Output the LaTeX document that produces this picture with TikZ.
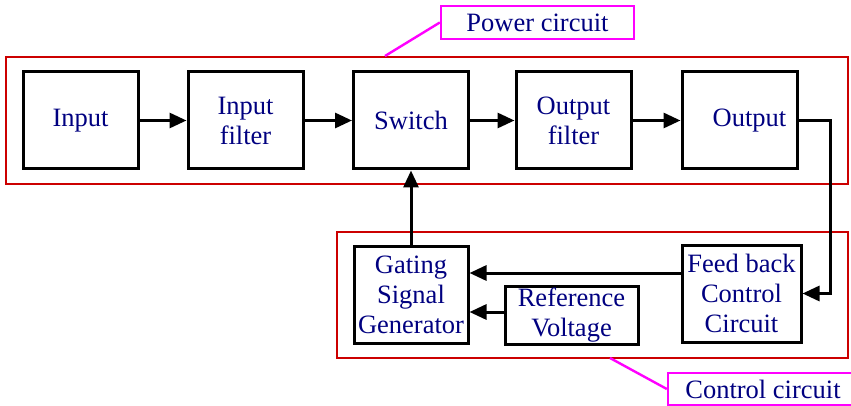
\documentclass[tikz,border=0pt]{standalone}
\usepackage{fontspec}
\setmainfont{Liberation Serif}
\usetikzlibrary{arrows.meta,calc}
\definecolor{boxred}{HTML}{CC0000}
\definecolor{txtblue}{HTML}{000080}
\definecolor{tagpink}{HTML}{FF00FF}
\tikzset{
  blk/.style={draw=black, line width=3pt, text=txtblue, align=center,
    minimum width=115pt, minimum height=97pt, inner sep=0pt,
    font=\fontsize{26.5}{30}\selectfont},
  group/.style={draw=boxred, line width=2.8pt},
  tag/.style={draw=tagpink, line width=2.4pt, text=txtblue, inner sep=0pt,
    font=\fontsize{26.5}{30}\selectfont},
  lead/.style={tagpink, line width=2.4pt},
  arr/.style={line width=3pt, -{Triangle[length=17pt,width=15pt]}}
}
\begin{document}
\begin{tikzpicture}[x=1pt,y=-1pt]
    \useasboundingbox (0,0) rectangle (851,406);

    % group frames
    \draw[group] (6,57) rectangle (848,184);
    \draw[group] (337,232) rectangle (848,358);

    % power stage
    \node[blk] (in) at (80.5,120.5) {Input};
    \node[blk] (infil) at (245.5,120.5) {Input\\filter};
    \node[blk] (sw) at (411,120.5) {Switch};
    \node[blk] (outfil) at (573.5,120.5) {Output\\filter};
    \node[blk] (out) at (739.5,120.5) {\hspace{20pt}Output};

    % control stage
    \node[blk, minimum width=114pt] (gate) at (411,294.5) {Gating\\Signal\\Generator};
    \node[blk, minimum width=133pt, minimum height=58pt] (ref) at (571.5,315) {Reference\\Voltage};
    \node[blk, minimum width=119pt] (fb) at (741.5,293.5) {Feed back\\Control\\Circuit};

    % labels
    \node[tag, minimum width=193pt, minimum height=33pt] (pwr) at (537.5,22.5) {Power circuit};
    \node[tag, minimum width=190pt, minimum height=32pt] (ctl) at (763,389) {Control circuit};
    \coordinate (p1) at (385,56);
    \coordinate (c1) at (610,358);
    \draw[lead] (p1) -- (pwr.west);
    \draw[lead] (c1) -- (ctl.west);

    % forward path
    \draw[arr] (in) -- (infil);
    \draw[arr] (infil) -- (sw);
    \draw[arr] (sw) -- (outfil);
    \draw[arr] (outfil) -- (out);

    % feedback path
    \draw[arr] (out.east) -- ++(32,0) |- (fb.east);
    \draw[arr] ([yshift=20.5pt]fb.west) coordinate (f1) -- (f1 -| gate.east);
    \draw[arr] ([yshift=3pt]ref.west) coordinate (r1) -- (r1 -| gate.east);
    \draw[arr] (gate) -- (sw);
\end{tikzpicture}
\end{document}
